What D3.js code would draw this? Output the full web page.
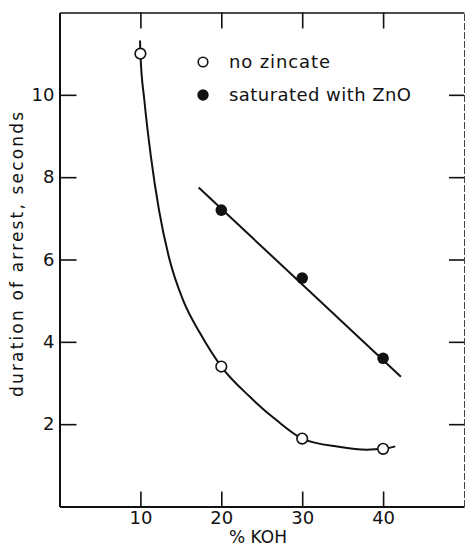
<!DOCTYPE html>
<html>
<head>
<meta charset="utf-8">
<script src="https://cdn.jsdelivr.net/npm/d3@7"></script>
<style>
  html, body { margin: 0; padding: 0; background: #fff; }
  svg { display: block; }
  text { font-family: "DejaVu Sans", sans-serif; fill: #111; }
</style>
</head>
<body>
<svg id="chart" width="466" height="548"></svg>
<script>
// Arrest duration versus KOH concentration
const kohNoZincate = [10, 20, 30, 40];
const arrestNoZincate = [11.0, 3.4, 1.65, 1.4];

const kohSaturated = [20, 30, 40];
const arrestSaturated = [7.2, 5.55, 3.6];

// Hand-drawn smooth curve through the "no zincate" points
const curveKoh = [9.95, 10, 10.5, 11.3, 12.3, 13.6, 15.3, 17.4, 20, 23.5, 26.8, 30, 34.5, 38, 40, 41.5];
const curveArrest = [11.32, 11.0, 9.85, 8.5, 7.2, 6.0, 5.0, 4.2, 3.4, 2.67, 2.1, 1.65, 1.45, 1.38, 1.4, 1.46];

// Straight fitted line through the saturated points
const lineKoh = [17.2, 42.2];
const lineArrest = [7.75, 3.15];

const xTicks = [10, 20, 30, 40];
const yTicks = [2, 4, 6, 8, 10];

const legendLabels = ["no zincate", "saturated with ZnO"];
const xTitle = "% KOH";
const yTitle = "duration of arrest, seconds";

const svg = d3.select("#chart");

const x = d3.scaleLinear().domain([0, 50]).range([59.5, 464]);
const y = d3.scaleLinear().domain([0, 12]).range([506.5, 12.5]);

function styleAxis(g, width) {
  g.selectAll("path.domain").attr("stroke", "#111").attr("stroke-width", width);
  g.selectAll(".tick line").attr("stroke", "#111").attr("stroke-width", 1.6);
  g.selectAll(".tick text").style("font-family", "DejaVu Sans, sans-serif")
    .style("font-size", "18px").attr("fill", "#111");
}

// Bottom axis with labels, ticks pointing inward
const gx = svg.append("g").attr("transform", `translate(0,${y(0)})`)
  .call(d3.axisBottom(x).tickValues(xTicks).tickSizeInner(-15).tickSizeOuter(0).tickPadding(5).tickFormat(d3.format("d")));
styleAxis(gx, 2);

// Left axis with labels
const gy = svg.append("g").attr("transform", `translate(${x(0)},0)`)
  .call(d3.axisLeft(y).tickValues(yTicks).tickSizeInner(-17).tickSizeOuter(0).tickPadding(5).tickFormat(d3.format("d")));
styleAxis(gy, 2);

// Top axis, ticks only
const gt = svg.append("g").attr("transform", `translate(0,${y(12)})`)
  .call(d3.axisTop(x).tickValues(xTicks).tickSizeInner(-16).tickSizeOuter(0).tickFormat(""));
styleAxis(gt, 1.4);

// Right axis, ticks only
const gr = svg.append("g").attr("transform", `translate(${x(50)},0)`)
  .call(d3.axisRight(y).tickValues(yTicks).tickSizeInner(-15).tickSizeOuter(0).tickFormat(""));
styleAxis(gr, 1);
gr.select("path.domain").attr("stroke", "#444").attr("stroke-dasharray", "7,2");

// Curve for no zincate
const curvePts = curveKoh.map((k, i) => [k, curveArrest[i]]);
svg.append("path")
  .datum(curvePts)
  .attr("fill", "none")
  .attr("stroke", "#111")
  .attr("stroke-width", 2)
  .attr("d", d3.line().x(d => x(d[0])).y(d => y(d[1])).curve(d3.curveMonotoneX));

// Line for saturated with ZnO
const linePts = lineKoh.map((k, i) => [k, lineArrest[i]]);
svg.append("path")
  .datum(linePts)
  .attr("fill", "none")
  .attr("stroke", "#111")
  .attr("stroke-width", 2)
  .attr("d", d3.line().x(d => x(d[0])).y(d => y(d[1])));

// Open circles
svg.append("g").selectAll("circle")
  .data(kohNoZincate.map((k, i) => [k, arrestNoZincate[i]]))
  .join("circle")
  .attr("cx", d => x(d[0]))
  .attr("cy", d => y(d[1]))
  .attr("r", 5.3)
  .attr("fill", "#fff")
  .attr("stroke", "#111")
  .attr("stroke-width", 1.6);

// Filled circles
svg.append("g").selectAll("circle")
  .data(kohSaturated.map((k, i) => [k, arrestSaturated[i]]))
  .join("circle")
  .attr("cx", d => x(d[0]))
  .attr("cy", d => y(d[1]))
  .attr("r", 5.8)
  .attr("fill", "#111");

// Legend
const legend = svg.append("g");
legend.append("circle").attr("cx", 203).attr("cy", 62).attr("r", 4.8)
  .attr("fill", "#fff").attr("stroke", "#111").attr("stroke-width", 1.6);
legend.append("circle").attr("cx", 203).attr("cy", 95).attr("r", 5.7).attr("fill", "#111");
legend.append("text").attr("x", 229).attr("y", 68)
  .attr("textLength", 101).attr("lengthAdjust", "spacing")
  .style("font-size", "18px").text(legendLabels[0]);
legend.append("text").attr("x", 229).attr("y", 101)
  .attr("textLength", 182).attr("lengthAdjust", "spacing")
  .style("font-size", "18px").text(legendLabels[1]);

// Axis titles
svg.append("text")
  .attr("x", 258).attr("y", 543)
  .attr("text-anchor", "middle")
  .style("font-size", "17px")
  .text(xTitle);

svg.append("text")
  .attr("transform", "translate(23,254.5) rotate(-90)")
  .attr("text-anchor", "middle")
  .attr("textLength", 285).attr("lengthAdjust", "spacing")
  .style("font-size", "17px")
  .text(yTitle);
</script>
</body>
</html>
